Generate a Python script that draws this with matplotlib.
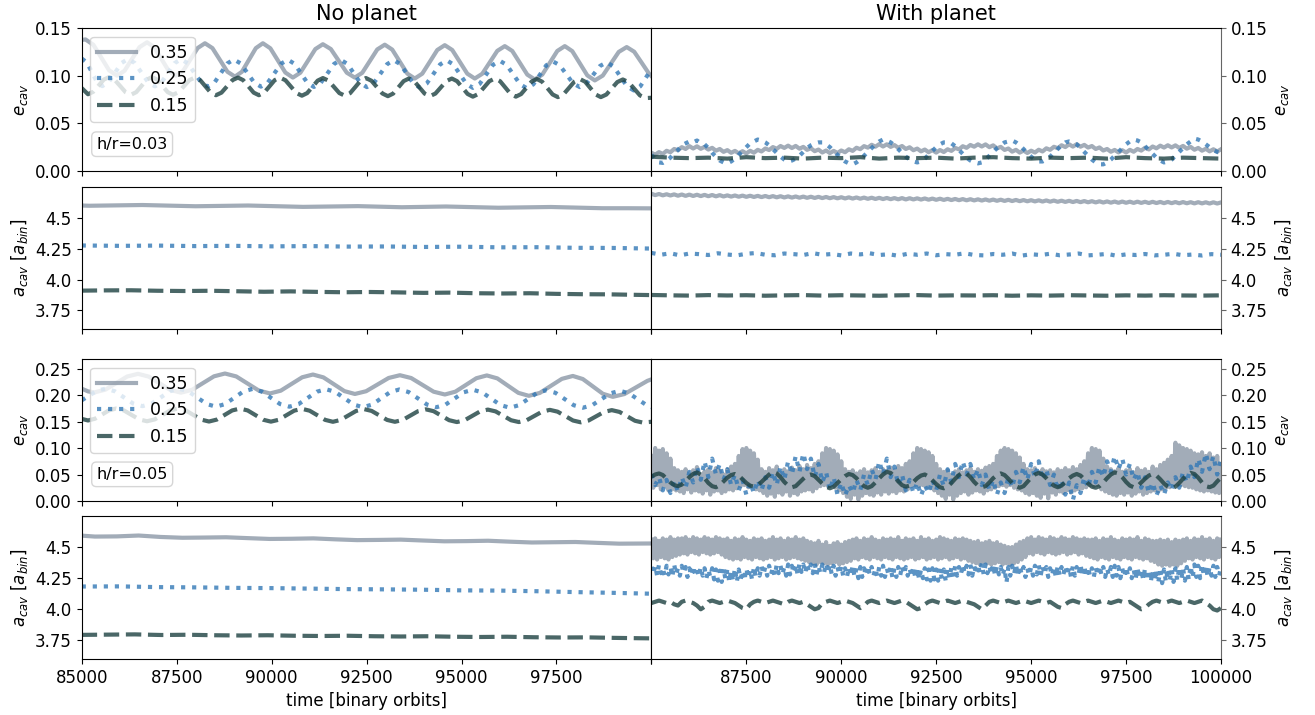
import numpy as np
import matplotlib
matplotlib.use('Agg')
import matplotlib.pyplot as plt

plt.rcParams['font.family'] = ['DejaVu Sans']

labels = ['0.35', '0.25', '0.15']
colors = ['#8b97a6', '#3278b6', '#1d4141']
styles = ['-', ':', '--']
col_titles = ['No planet', 'With planet']
hr_labels = ['h/r=0.03', 'h/r=0.05']
xticks = [85000, 87500, 90000, 92500, 95000, 97500, 100000]

# ---------------- left column, h/r=0.03, e_cav ----------------
np03_e_035 = [(85000, .1375), (85100, .138), (85307, .1324), (85515, .119), (85722, .1056), (85930, .100),
              (86127, .1051), (86325, .1175), (86522, .1299), (86720, .135), (86910, .1299), (87100, .1175),
              (87290, .1051), (87480, .100), (87671, .1050), (87862, .117), (88054, .1290), (88245, .134),
              (88442, .1289), (88640, .1165), (88837, .1041), (89035, .099), (89219, .1041), (89402, .1165),
              (89586, .1289), (89770, .134), (89967, .1287), (90165, .116), (90362, .1033), (90560, .098),
              (90757, .1031), (90955, .1155), (91152, .1279), (91350, .133), (91560, .1279), (91770, .1155),
              (91980, .1031), (92190, .098), (92387, .1030), (92585, .11525), (92782, .1275), (92980, .1325),
              (93177, .1273), (93375, .11475), (93572, .1022), (93770, .097), (93967, .1021), (94165, .1145),
              (94362, .1269), (94560, .132), (94757, .1269), (94955, .1145), (95152, .1021), (95350, .097),
              (95547, .1020), (95745, .114), (95942, .1260), (96140, .131), (96337, .1259), (96535, .1135),
              (96732, .1011), (96930, .096), (97127, .1011), (97325, .1135), (97522, .1259), (97720, .131),
              (97917, .1257), (98115, .113), (98312, .1003), (98510, .095), (98720, .1001), (98930, .1125),
              (99140, .1249), (99350, .130), (99547, .1251), (99745, .1135), (99942, .1018), (100000, .0995)]
np03_e_025 = [(85000, .118), (85135, .1138), (85270, .1035), (85405, .0932), (85540, .089),
              (85710, .0932), (85880, .10325), (86049, .1133), (86219, .1175),
              (86397, .1133), (86574, .10315), (86752, .0930), (86929, .0888),
              (87100, .0929), (87271, .1030), (87443, .1131), (87614, .1172),
              (87792, .1130), (87969, .1029), (88147, .0928), (88324, .0886),
              (88495, .0927), (88666, .1028), (88837, .1129), (89008, .1170),
              (89186, .1128), (89364, .10275), (89541, .0927), (89719, .0885),
              (89897, .0926), (90075, .1026), (90252, .1126), (90430, .1167),
              (90601, .1125), (90772, .10245), (90943, .0924), (91114, .0882),
              (91292, .0923), (91470, .10235), (91647, .1124), (91825, .1165),
              (91996, .1123), (92167, .10225), (92338, .0922), (92509, .0880),
              (92687, .0921), (92865, .1021), (93042, .1121), (93220, .1162),
              (93391, .1120), (93562, .10185), (93733, .0917), (93904, .0875),
              (94082, .0917), (94259, .10175), (94437, .1118), (94614, .1160),
              (94785, .1118), (94957, .1016), (95128, .0914), (95299, .0872),
              (95477, .0913), (95654, .1014), (95832, .1115), (96009, .1156),
              (96187, .1114), (96365, .1012), (96542, .0910), (96720, .0868),
              (96891, .0909), (97062, .1009), (97233, .1109), (97404, .1150),
              (97582, .1111), (97760, .1015), (97937, .0919), (98115, .0880),
              (98292, .0918), (98470, .1010), (98647, .1102), (98825, .1140),
              (99003, .1097), (99181, .09925), (99358, .0888), (99536, .0845),
              (99707, .0888), (99878, .0993), (100000, .107)]
np03_e_015 = [(85000, .087), (85166, .0805), (85305, .0831), (85444, .0895), (85582, .0959), (85721, .0985),
              (85865, .0958), (86010, .08925), (86154, .0827), (86298, .0800),
              (86436, .0827), (86574, .08925), (86712, .0958), (86850, .0985),
              (86988, .0958), (87127, .08925), (87265, .0827), (87403, .0800),
              (87548, .0826), (87693, .089), (87837, .0954), (87982, .098),
              (88120, .0953), (88259, .08875), (88397, .0822), (88535, .0795),
              (88680, .0822), (88825, .08875), (88969, .0953), (89114, .098),
              (89252, .0953), (89390, .08875), (89528, .0822), (89666, .0795),
              (89804, .0822), (89943, .08875), (90081, .0953), (90219, .098),
              (90364, .0952), (90509, .0885), (90653, .0818), (90798, .079),
              (90936, .0817), (91075, .08825), (91213, .0948), (91351, .0975),
              (91496, .0948), (91641, .08825), (91785, .0817), (91930, .079),
              (92068, .0817), (92207, .08825), (92345, .0948), (92483, .0975),
              (92628, .0947), (92773, .088), (92917, .0813), (93062, .0785),
              (93200, .0812), (93339, .08775), (93477, .0943), (93615, .097),
              (93753, .0943), (93891, .08775), (94029, .0812), (94167, .0785),
              (94312, .0812), (94457, .08775), (94601, .0943), (94746, .097),
              (94884, .0942), (95023, .0875), (95161, .0808), (95299, .078),
              (95444, .0808), (95589, .0875), (95733, .0942), (95878, .097),
              (96016, .0942), (96155, .0875), (96293, .0808), (96431, .078),
              (96569, .0807), (96708, .08725), (96846, .0938), (96984, .0965),
              (97122, .0937), (97261, .087), (97399, .0803), (97537, .0775),
              (97682, .0803), (97827, .087), (97971, .0937), (98116, .0965),
              (98254, .0937), (98393, .087), (98531, .0803), (98669, .0775),
              (98814, .0802), (98959, .08675), (99103, .0933), (99248, .096),
              (99398, .0932), (99549, .08625), (99699, .0793), (99850, .0765), (100000, .0768)]

# ---------------- left column, h/r=0.03, a_cav ----------------
np03_a_035 = [(85000, 4.598), (85200, 4.596), (85900, 4.599), (86600, 4.602), (87300, 4.597), (88000, 4.592),
              (88690, 4.595), (89380, 4.598), (90100, 4.5925), (90830, 4.587), (91550, 4.590), (92275, 4.593),
              (92850, 4.5885), (93430, 4.584), (94010, 4.587), (94590, 4.590), (95280, 4.585), (95970, 4.580),
              (96660, 4.583), (97355, 4.586), (98030, 4.581), (98700, 4.576), (99350, 4.576), (100000, 4.575)]
np03_a_025 = [(85000, 4.275), (86000, 4.272), (87000, 4.274), (88000, 4.270), (89000, 4.272), (90000, 4.268),
              (91000, 4.270), (92000, 4.266), (93000, 4.267), (94000, 4.263), (95000, 4.265), (96000, 4.260),
              (97000, 4.261), (98000, 4.256), (99000, 4.255), (100000, 4.250)]
np03_a_015 = [(85000, 3.910), (85600, 3.912), (86300, 3.913), (87000, 3.909), (87700, 3.907), (88400, 3.909),
              (89100, 3.905), (89800, 3.901), (90500, 3.904), (91200, 3.900), (91900, 3.897), (92600, 3.899),
              (93300, 3.896), (94000, 3.892), (94700, 3.894), (95400, 3.889), (96100, 3.887), (96800, 3.889),
              (97500, 3.884), (98200, 3.881), (98900, 3.880), (99600, 3.876), (100000, 3.874)]

# ---------------- left column, h/r=0.05, e_cav ----------------
np05_e_035 = [(85000, .212), (85170, .2068), (85337, .205), (85623, .2101), (85910, .2225), (86196, .2349), (86482, .240),
              (86765, .2348), (87048, .22225), (87331, .2097), (87614, .2045),
              (87904, .2098), (88193, .22255), (88483, .2353), (88772, .2406),
              (89069, .2351), (89365, .2218), (89662, .2085), (89958, .203),
              (90241, .2082), (90523, .22085), (90806, .2335), (91088, .2387),
              (91364, .2333), (91641, .22035), (91917, .2074), (92193, .202),
              (92489, .2072), (92786, .2197), (93082, .2322), (93378, .2374),
              (93674, .2321), (93970, .2192), (94266, .2063), (94562, .201),
              (94838, .2063), (95115, .219), (95391, .2317), (95667, .237),
              (95944, .2314), (96220, .21775), (96497, .2041), (96773, .1985),
              (97063, .204), (97352, .21725), (97642, .2305), (97931, .236),
              (98194, .2302), (98458, .2163), (98721, .2024), (98984, .1966),
              (99288, .2018), (99592, .2143), (99896, .2268), (100000, .2295)]
np05_e_025 = [(85000, .190), (85300, .2035), (85470, .2095), (85626, .212),
              (85870, .2072), (86113, .1955), (86357, .1838), (86600, .179),
              (86840, .1838), (87081, .1955), (87321, .2072), (87561, .212),
              (87805, .207), (88048, .195), (88292, .183), (88535, .178),
              (88775, .1829), (89015, .19475), (89255, .2066), (89495, .2115),
              (89739, .2066), (89982, .19475), (90226, .1829), (90469, .178),
              (90709, .1828), (90950, .1945), (91190, .2062), (91430, .211),
              (91674, .206), (91917, .194), (92161, .182), (92404, .177),
              (92644, .1819), (92884, .19375), (93124, .2056), (93364, .2105),
              (93608, .2056), (93851, .19375), (94095, .1819), (94338, .177),
              (94578, .1818), (94819, .1935), (95059, .2052), (95299, .210),
              (95543, .205), (95786, .193), (96030, .181), (96273, .176),
              (96513, .1808), (96753, .1925), (96993, .2042), (97233, .209),
              (97473, .2042), (97714, .1925), (97954, .1808), (98194, .176),
              (98437, .1807), (98681, .192), (98924, .2033), (99168, .208),
              (99408, .2033), (99648, .19175), (99888, .1802), (100000, .1769)]
np05_e_015 = [(85000, .155), (85166, .152), (85351, .1553), (85536, .16325), (85720, .1712), (85905, .1745),
              (86109, .171), (86312, .1625), (86516, .154), (86719, .1505),
              (86923, .154), (87127, .1625), (87331, .171), (87535, .1745),
              (87739, .1709), (87943, .16225), (88147, .1536), (88351, .150),
              (88555, .1536), (88759, .16225), (88962, .1709), (89166, .1745),
              (89370, .1709), (89574, .16215), (89778, .1534), (89982, .1498),
              (90186, .1533), (90390, .1619), (90594, .1705), (90798, .174),
              (91002, .1704), (91206, .16175), (91410, .1531), (91614, .1495),
              (91818, .153), (92022, .1615), (92226, .170), (92430, .1735),
              (92634, .170), (92838, .1615), (93042, .153), (93246, .1495),
              (93450, .1529), (93654, .16125), (93858, .1696), (94062, .173),
              (94266, .1695), (94470, .161), (94674, .1525), (94878, .149),
              (95082, .1524), (95286, .16075), (95490, .1691), (95694, .1725),
              (95898, .1691), (96102, .16075), (96306, .1524), (96510, .149),
              (96714, .1524), (96918, .1605), (97122, .1686), (97326, .172),
              (97530, .1686), (97734, .16025), (97937, .1519), (98141, .1485),
              (98345, .1519), (98549, .160), (98753, .1681), (98957, .1715),
              (99161, .1681), (99365, .15975), (99569, .1514), (99773, .148), (100000, .1495)]

# ---------------- left column, h/r=0.05, a_cav ----------------
np05_a_035 = [(85000, 4.592), (85350, 4.5846), (85925, 4.586), (86500, 4.593), (87075, 4.5815), (87650, 4.575),
              (88225, 4.5767), (88800, 4.579), (89375, 4.572), (89950, 4.5655), (90525, 4.567), (91100, 4.570),
              (91675, 4.5624), (92250, 4.556), (92825, 4.5577), (93400, 4.560), (93975, 4.553), (94550, 4.5465),
              (95125, 4.548), (95700, 4.551), (96275, 4.5435), (96850, 4.537), (97425, 4.539), (98000, 4.541),
              (98575, 4.534), (99150, 4.5275), (100000, 4.529)]
np05_a_025 = [(85000, 4.183), (86000, 4.184), (87000, 4.178), (88000, 4.176), (89000, 4.172), (90000, 4.170),
              (91000, 4.166), (92000, 4.162), (93000, 4.160), (94000, 4.157), (95000, 4.152), (96000, 4.150),
              (97000, 4.145), (98000, 4.138), (99000, 4.132), (100000, 4.125)]
np05_a_015 = [(85000, 3.794), (85700, 3.796), (86400, 3.798), (87100, 3.793), (87800, 3.795), (88500, 3.791),
              (89200, 3.789), (89900, 3.791), (90600, 3.787), (91300, 3.785), (92000, 3.787), (92700, 3.783),
              (93400, 3.781), (94100, 3.783), (94800, 3.779), (95500, 3.777), (96200, 3.779), (96900, 3.775),
              (97600, 3.773), (98300, 3.774), (99000, 3.770), (99700, 3.767), (100000, 3.766)]

# ---------------- right column (regularly sampled 85000..100000) ----------------
wp03_e_035 = [.0192, .0171, .0198, .0179, .0212, .0197, .0231, .0218, .0250, .0231, .0261, .0236, .0259, .0233,
              .0253, .0225, .0243, .0213, .0231, .0201, .0219, .0191, .0211, .0185, .0208, .0184, .0212, .0192,
              .0222, .0205, .0236, .0220, .0251, .0233, .0262, .0242, .0266, .0241, .0263, .0234, .0253, .0222,
              .0239, .0208, .0225, .0194, .0215, .0188, .0211, .0189, .0215, .0197, .0228, .0211, .0244, .0229,
              .0261, .0245, .0275, .0255, .0282, .0257, .0280, .0253, .0272, .0244, .0262, .0231, .0249, .0218,
              .0235, .0206, .0225, .0197, .0219, .0193, .0220, .0199, .0228, .0211, .0242, .0227, .0260, .0243,
              .0273, .0255, .0280, .0257, .0279, .0250, .0269, .0237, .0253, .0221, .0236, .0203, .0222, .0193,
              .0214, .0189, .0213, .0194, .0223, .0205, .0238, .0222, .0254, .0239, .0270, .0251, .0280, .0256,
              .0281, .0255, .0274, .0246, .0262, .0231, .0247, .0215, .0231, .0202, .0221, .0195, .0218, .0194,
              .0222, .0202, .0231, .0214, .0244, .0226, .0257, .0238, .0266, .0246, .0270, .0247, .0269, .0242,
              .0263, .0234, .0253, .0223, .0242, .0213, .0233, .0206, .0228, .0204, .0228]
wp03_e_025 = [.017, .012, .009, .0085, .011, .014, .019, .022, .027, .029, .031, .030, .032, .029, .028, .024,
              .019, .015, .011, .009, .008, .010, .013, .017, .021, .025, .029, .031, .033, .032, .030, .027,
              .023, .019, .015, .012, .010, .011, .013, .016, .020, .024, .027, .029, .030, .030, .028, .025,
              .021, .017, .013, .010, .008, .007, .009, .012, .016, .020, .024, .028, .031, .033, .032, .030,
              .027, .023, .019, .015, .012, .010, .009, .010, .013, .017, .021, .025, .028, .030, .030, .029,
              .026, .022, .018, .014, .011, .009, .008, .009, .012, .016, .020, .024, .027, .030, .031, .032,
              .030, .027, .023, .019, .015, .012, .010, .010, .012, .015, .019, .023, .027, .030, .031, .030,
              .028, .024, .020, .016, .012, .009, .007, .007, .009, .012, .016, .020, .024, .028, .031, .033,
              .032, .030, .026, .022, .018, .014, .011, .009, .010, .012, .016, .020, .024, .028, .031, .034,
              .033, .031, .028, .025, .022, .020, .019]
wp03_e_015 = [.015, .014, .0135, .014, .013, .0145, .0135, .014, .013, .014, .0135, .0145, .013, .014, .0135, .014,
              .013, .014, .0145, .0135, .013, .014, .0135, .014, .013, .0145, .0135, .013, .014, .0135, .013]

wp03_a_035 = [4.693, 4.682, 4.691, 4.680, 4.689, 4.679, 4.688, 4.677, 4.687, 4.676, 4.686, 4.675, 4.685, 4.674,
              4.684, 4.673, 4.683, 4.672, 4.682, 4.671, 4.680, 4.670, 4.679, 4.669, 4.678, 4.668, 4.677, 4.667,
              4.676, 4.666, 4.675, 4.665, 4.674, 4.664, 4.673, 4.663, 4.672, 4.662, 4.671, 4.661, 4.670, 4.660,
              4.669, 4.659, 4.668, 4.658, 4.667, 4.657, 4.666, 4.656, 4.665, 4.655, 4.664, 4.654, 4.663, 4.653,
              4.662, 4.652, 4.661, 4.651, 4.660, 4.650, 4.659, 4.649, 4.658, 4.648, 4.658, 4.647, 4.657, 4.647,
              4.656, 4.646, 4.655, 4.645, 4.654, 4.644, 4.653, 4.643, 4.652, 4.642, 4.651, 4.641, 4.650, 4.640,
              4.649, 4.639, 4.648, 4.638, 4.647, 4.637, 4.646, 4.636, 4.645, 4.635, 4.644, 4.634, 4.643, 4.633,
              4.642, 4.632, 4.641, 4.631, 4.640, 4.630, 4.639, 4.629, 4.638, 4.628, 4.637, 4.627, 4.636, 4.626,
              4.635, 4.625, 4.634, 4.624, 4.633, 4.623, 4.632, 4.622, 4.631, 4.621, 4.630, 4.620, 4.630, 4.620,
              4.629, 4.619, 4.629, 4.619, 4.628, 4.618, 4.628, 4.618, 4.627, 4.617, 4.627, 4.617, 4.626, 4.616,
              4.626, 4.616, 4.625, 4.615, 4.625, 4.615, 4.624, 4.614, 4.624, 4.614, 4.623]
wp03_a_025 = [4.215, 4.200, 4.212, 4.195, 4.210, 4.205, 4.198, 4.212, 4.202, 4.195, 4.208, 4.214, 4.200, 4.196,
              4.210, 4.205, 4.198, 4.213, 4.200, 4.206, 4.195, 4.210, 4.203, 4.212, 4.198, 4.204, 4.192, 4.208,
              4.200, 4.210, 4.196, 4.205, 4.200, 4.212, 4.198, 4.195, 4.206, 4.200, 4.210, 4.193, 4.204, 4.198,
              4.208, 4.196, 4.202, 4.210, 4.195, 4.200, 4.207, 4.192, 4.203, 4.198, 4.206, 4.195, 4.200, 4.208,
              4.196, 4.202, 4.194, 4.205, 4.200]
wp03_a_015 = [3.875, 3.872, 3.870, 3.874, 3.871, 3.873, 3.869, 3.872, 3.874, 3.870, 3.873, 3.871, 3.869, 3.872,
              3.874, 3.870, 3.872, 3.871, 3.873, 3.869, 3.872, 3.870, 3.873, 3.871, 3.869, 3.872, 3.870, 3.873,
              3.871, 3.870, 3.872]

wp05_e_035 = [.085, .025, .100, .030, .095, .022, .098, .028, .090, .020, .080, .022,
              .062, .020, .058, .018, .055, .015, .060, .022, .052, .016, .058, .020, .064, .018, .050, .014,
              .056, .020, .060, .012, .054, .018, .062, .020, .057, .015, .050, .018, .060, .022, .065, .020,
              .070, .024,
              .085, .028, .098, .030, .100, .026, .095, .030, .090, .022, .078, .020,
              .060, .015, .055, .010, .062, .014, .058, .008, .065, .016, .054, .012, .060, .018, .056, .010,
              .063, .015, .058, .012, .066, .018, .060, .020, .068, .022, .062, .018, .070, .024, .075,
              .028, .090, .030, .100, .028, .098, .030, .095, .025, .088, .020, .075, .015,
              .060, .008, .055, .004, .058, .012, .052, .003, .056, .010, .060, .015, .054, .012, .058, .010,
              .062, .016, .055, .012, .060, .018, .057, .014, .063, .018, .058, .015, .066, .020, .062, .018,
              .070, .022, .075,
              .028, .090, .030, .100, .028, .098, .030, .095, .026, .092, .024, .085, .020, .070, .015,
              .060, .010, .055, .004, .058, .012, .050, .003, .056, .010, .060, .015, .054, .018, .058, .012,
              .062, .016, .055, .020, .060, .018, .057, .014, .063, .020, .066, .022, .070, .025,
              .085, .028, .095, .030, .100, .027, .098, .030, .095, .025, .090, .022, .082, .020, .070, .015,
              .060, .012, .058, .015, .062, .010, .055, .006, .060, .014, .056, .005, .058, .016, .054, .012,
              .060, .018, .057, .015, .062, .020, .058, .016, .064, .020, .060, .022, .068, .024, .075, .026,
              .090, .030, .100, .028, .098, .030, .095, .022, .080, .018,
              .065, .015, .060, .012, .056, .010, .062, .015, .055, .012, .058, .016, .060, .010, .054, .014,
              .062, .018, .057, .012, .060, .015, .055, .018, .065, .020, .060, .018, .068, .022, .072, .025,
              .078, .026, .085,
              .030, .110, .032, .105, .030, .100, .028, .098, .026, .095, .025,
              .090, .022, .088, .020, .092, .018, .085, .020, .090, .018, .082, .016, .085, .015, .070]
wp05_e_025 = [.050, .030, .045, .020, .040, .015, .038, .018, .045, .025, .055, .035, .065, .040, .075, .045,
              .080, .050, .070, .040, .060, .030, .050, .020, .040, .012, .035, .015, .040, .020, .045, .025,
              .055, .030, .065, .040, .075, .050, .085, .055, .090, .060, .080, .045, .070, .035, .055, .020,
              .045, .012, .035, .010, .030, .015, .040, .020, .050, .030, .060, .040, .075, .050, .080, .045,
              .065, .030, .050, .020, .040, .015, .035, .010, .030, .015, .040, .020, .050, .028, .060, .035,
              .070, .045, .075, .050, .070, .040, .060, .030, .050, .020, .040, .012, .035, .015, .045, .025,
              .055, .035, .065, .040, .070, .045, .075, .040, .060, .030, .050, .020, .040, .012, .035, .002,
              .030, .015, .045, .025, .055, .035, .065, .045, .075, .055, .085, .060, .080, .050, .070, .040,
              .055, .025, .045, .015, .035, .010, .030, .012, .035, .020, .045, .025, .055, .035, .065, .045,
              .080, .055, .090, .060, .085, .050, .080]
wp05_e_015 = [.046, .050, .052, .049, .042, .035, .030, .028, .031, .038,
              .045, .051, .054, .050, .043, .034, .028, .026, .030, .037,
              .044, .049, .051, .048, .041, .034, .029, .027, .030, .036,
              .043, .050, .055, .052, .045, .036, .029, .026, .028, .035,
              .042, .048, .050, .047, .040, .033, .027, .024, .027, .034,
              .041, .047, .051, .049, .043, .035, .028, .025, .028, .035,
              .043, .050, .055, .053, .046, .037, .030, .027, .029, .036,
              .043, .048, .050, .046, .039, .032, .026, .024, .027, .034,
              .042, .049, .054, .052, .045, .036, .029, .026, .028, .035,
              .043, .049, .052, .049, .042, .034, .028, .025, .028, .036,
              .044, .050, .053, .050, .043, .035, .029, .026, .029, .036,
              .043, .048, .051, .048, .041, .033, .027, .025, .028, .035,
              .043, .050, .054, .052, .045, .036, .029, .026, .028, .035,
              .042, .048, .051, .048, .041, .033, .027, .024, .027, .034,
              .042, .049, .053, .051, .044, .035, .028, .026, .029, .037, .044]

wp05_a_035 = [4.56, 4.41, 4.57, 4.40, 4.55, 4.42, 4.57, 4.41, 4.56, 4.40, 4.58, 4.42, 4.56, 4.43, 4.57, 4.44,
              4.57, 4.45, 4.58, 4.44, 4.56, 4.46, 4.58, 4.45, 4.57, 4.44, 4.56, 4.46, 4.58, 4.45, 4.57, 4.44,
              4.56, 4.45, 4.58, 4.46, 4.57, 4.44,
              4.56, 4.42, 4.57, 4.41, 4.55, 4.40, 4.57, 4.41, 4.56, 4.40, 4.58, 4.42, 4.56, 4.41, 4.55, 4.40,
              4.57, 4.42, 4.56, 4.41, 4.57, 4.40, 4.55, 4.41, 4.56, 4.42, 4.58, 4.40, 4.56, 4.41, 4.57, 4.42,
              4.55, 4.40, 4.57, 4.41, 4.56, 4.42, 4.58, 4.41, 4.56, 4.40, 4.57, 4.39, 4.55, 4.38,
              4.54, 4.37, 4.53, 4.36, 4.55, 4.38, 4.52, 4.37, 4.54, 4.36, 4.51, 4.37, 4.53, 4.38, 4.54, 4.36,
              4.52, 4.37, 4.54, 4.38, 4.55, 4.39,
              4.56, 4.41, 4.57, 4.40, 4.55, 4.42, 4.57, 4.41, 4.56, 4.40, 4.58, 4.42, 4.56, 4.41, 4.55, 4.40,
              4.57, 4.42, 4.56, 4.41, 4.57, 4.40, 4.56, 4.42, 4.58, 4.41, 4.55, 4.40, 4.57, 4.41, 4.56, 4.42,
              4.57, 4.40, 4.55, 4.41, 4.58, 4.42, 4.56, 4.40, 4.57, 4.41, 4.55, 4.42, 4.56, 4.40, 4.58, 4.41,
              4.57, 4.42, 4.56, 4.40, 4.55, 4.41, 4.57, 4.42, 4.56, 4.40, 4.57, 4.41, 4.56, 4.39, 4.55, 4.38,
              4.54, 4.37, 4.55, 4.36, 4.53, 4.38, 4.54, 4.37, 4.55, 4.36, 4.53, 4.37, 4.54, 4.38, 4.52, 4.36,
              4.51, 4.37, 4.50, 4.36, 4.50, 4.37, 4.52, 4.38, 4.54, 4.40, 4.55, 4.42,
              4.57, 4.45, 4.58, 4.44, 4.56, 4.46, 4.58, 4.45, 4.57, 4.44, 4.56, 4.46, 4.58, 4.45, 4.57, 4.44,
              4.56, 4.45, 4.58, 4.46, 4.57, 4.44, 4.56, 4.45, 4.58, 4.46, 4.57, 4.44, 4.56, 4.45, 4.57, 4.43,
              4.56, 4.42,
              4.56, 4.41, 4.57, 4.40, 4.55, 4.42, 4.57, 4.41, 4.56, 4.40, 4.58, 4.42, 4.56, 4.41, 4.55, 4.40,
              4.57, 4.42, 4.56, 4.41, 4.57, 4.40, 4.56, 4.42, 4.58, 4.41, 4.55, 4.40, 4.57, 4.41, 4.56, 4.39,
              4.55, 4.38,
              4.55, 4.36, 4.56, 4.35, 4.55, 4.36, 4.56, 4.35, 4.54, 4.36, 4.56, 4.35, 4.55, 4.37,
              4.56, 4.39, 4.57, 4.41, 4.55, 4.40, 4.57, 4.42, 4.56, 4.41, 4.58, 4.40, 4.56, 4.42, 4.57, 4.41,
              4.55, 4.40, 4.57, 4.42, 4.56]
wp05_a_025 = [4.34, 4.28, 4.35, 4.27, 4.36, 4.29, 4.33, 4.27, 4.35, 4.28, 4.34, 4.26, 4.36, 4.28, 4.33, 4.27,
              4.35, 4.29, 4.34, 4.26, 4.33, 4.27, 4.35, 4.28, 4.32, 4.26, 4.34, 4.27, 4.33, 4.25, 4.32, 4.26,
              4.33, 4.24,
              4.32, 4.23, 4.31, 4.22, 4.33, 4.24, 4.32, 4.22, 4.31, 4.23, 4.33, 4.22, 4.32, 4.24, 4.31, 4.23,
              4.33, 4.25, 4.32, 4.24, 4.34, 4.26, 4.33, 4.27, 4.35, 4.28,
              4.34, 4.27, 4.35, 4.28, 4.34, 4.27, 4.36, 4.29, 4.35, 4.28, 4.34, 4.27, 4.36, 4.28, 4.35, 4.29,
              4.36, 4.28, 4.37, 4.30,
              4.36, 4.29, 4.37, 4.30, 4.36, 4.29, 4.37, 4.28, 4.35, 4.29, 4.36, 4.30, 4.37, 4.29, 4.36, 4.28,
              4.35, 4.27, 4.34, 4.28,
              4.35, 4.27, 4.33, 4.26, 4.34, 4.27, 4.35, 4.26, 4.33, 4.25, 4.34, 4.26, 4.33, 4.27, 4.35, 4.28,
              4.34, 4.27, 4.33, 4.26, 4.34, 4.27, 4.35, 4.26, 4.33, 4.27, 4.34, 4.25, 4.33, 4.26, 4.34, 4.27,
              4.35, 4.28, 4.34, 4.27, 4.33, 4.26, 4.34, 4.25, 4.33, 4.24, 4.32, 4.25, 4.33, 4.24, 4.32, 4.23,
              4.33, 4.24,
              4.32, 4.23, 4.33, 4.24, 4.32, 4.23, 4.33, 4.25, 4.34, 4.26, 4.35, 4.27, 4.34, 4.28, 4.36, 4.29,
              4.35, 4.28, 4.36, 4.27,
              4.35, 4.28, 4.36, 4.29, 4.37, 4.28, 4.36, 4.29, 4.35, 4.28, 4.36, 4.27, 4.35, 4.28, 4.34, 4.27,
              4.33, 4.21, 4.34, 4.27, 4.35, 4.28, 4.36, 4.27, 4.35, 4.28, 4.34, 4.26, 4.33, 4.27,
              4.34, 4.27, 4.35, 4.28, 4.36, 4.27, 4.35, 4.28, 4.34, 4.26, 4.33, 4.27, 4.34, 4.26, 4.35, 4.27,
              4.34, 4.28, 4.35, 4.27, 4.34, 4.26, 4.35, 4.27, 4.34, 4.28, 4.36, 4.27, 4.35, 4.26, 4.34, 4.27,
              4.33, 4.26, 4.34, 4.27, 4.35, 4.28, 4.34, 4.26, 4.33, 4.27, 4.34, 4.26, 4.35, 4.27, 4.34, 4.25,
              4.33, 4.26, 4.34, 4.27, 4.33, 4.25, 4.32, 4.24, 4.33, 4.25, 4.32, 4.24,
              4.33, 4.23, 4.32, 4.22, 4.31, 4.23, 4.32, 4.22, 4.31, 4.21, 4.32, 4.22, 4.33, 4.23, 4.32, 4.22,
              4.33, 4.23, 4.34, 4.24, 4.33, 4.23, 4.34, 4.24, 4.35, 4.25, 4.36, 4.26, 4.35, 4.25, 4.36, 4.27,
              4.35, 4.26, 4.34, 4.27, 4.35, 4.26, 4.34, 4.27, 4.34]
wp05_a_015 = [4.05, 4.06, 4.07, 4.06, 4.05, 4.06, 4.04, 4.03, 4.06, 4.07, 4.06, 4.05, 4.03, 4.00, 4.02, 4.06,
              4.07, 4.06, 4.05, 4.06, 4.07, 4.06, 4.05, 4.03, 4.01, 4.00, 4.04, 4.06, 4.07, 4.06, 4.05, 4.06,
              4.07, 4.06, 4.05, 4.04, 4.06, 4.07, 4.06, 4.05, 4.06, 4.04, 4.02, 4.00, 4.01, 4.05, 4.06, 4.07,
              4.06, 4.05, 4.06, 4.07, 4.06, 4.05, 4.03, 4.01, 4.03, 4.06, 4.07, 4.06, 4.05, 4.06, 4.07, 4.06,
              4.05, 4.06, 4.07, 4.06, 4.04, 4.02, 4.00, 4.01, 4.04, 4.06, 4.07, 4.06, 4.05, 4.06, 4.07, 4.06,
              4.05, 4.06, 4.07, 4.06, 4.05, 4.04, 4.02, 4.00, 4.03, 4.06, 4.07, 4.06, 4.05, 4.06, 4.07, 4.06,
              4.05, 4.06, 4.07, 4.06, 4.05, 4.06, 4.07, 4.06, 4.05, 4.06, 4.04, 4.02, 4.01, 4.04, 4.06, 4.07,
              4.06, 4.05, 4.06, 4.07, 4.06, 4.05, 4.06, 4.07, 4.06, 4.05, 4.06, 4.07, 4.06, 4.05, 4.06, 4.04,
              4.02, 4.00, 4.01, 4.04, 4.06, 4.07, 4.06, 4.05, 4.06, 4.07, 4.06, 4.05, 4.06, 4.07, 4.06, 4.05,
              4.06, 4.07, 4.05, 4.03, 4.00, 3.99, 4.01]

# ---------------- figure ----------------
W, H = 1315, 715
fig = plt.figure(figsize=(W / 100, H / 100), dpi=100)

xl, xm, xr = 81.7, 651.4, 1221.0
rows_px = [(28, 171), (186.7, 329), (359, 501), (516, 659)]
ylims = [(0, 0.15), (3.6, 4.75), (0, 0.268), (3.6, 4.75)]
yticks_e1 = [0, 0.05, 0.10, 0.15]
yticks_a = [3.75, 4.0, 4.25, 4.5]
yticklabels_a = ['3.75', '4.0', '4.25', '4.5']
yticks_e2 = [0, 0.05, 0.10, 0.15, 0.20, 0.25]


def as_tv(series):
    if isinstance(series[0], tuple):
        t = [p[0] for p in series]
        v = [p[1] for p in series]
    else:
        v = list(series)
        t = np.linspace(85000, 100000, len(v))
    return t, v


panels = {
    (0, 0): [np03_e_035, np03_e_025, np03_e_015],
    (1, 0): [np03_a_035, np03_a_025, np03_a_015],
    (2, 0): [np05_e_035, np05_e_025, np05_e_015],
    (3, 0): [np05_a_035, np05_a_025, np05_a_015],
    (0, 1): [wp03_e_035, wp03_e_025, wp03_e_015],
    (1, 1): [wp03_a_035, wp03_a_025, wp03_a_015],
    (2, 1): [wp05_e_035, wp05_e_025, wp05_e_015],
    (3, 1): [wp05_a_035, wp05_a_025, wp05_a_015],
}

for (r, c), series_list in panels.items():
    top, bot = rows_px[r]
    x0 = xl if c == 0 else xm
    x1 = xm if c == 0 else xr
    ax = fig.add_axes([x0 / W, 1 - bot / H, (x1 - x0) / W, (bot - top) / H])
    handles = []
    for s, lab, col, ls in zip(series_list, labels, colors, styles):
        t, v = as_tv(s)
        ln, = ax.plot(t, v, color=col, ls=ls, lw=3, alpha=0.8, label=lab)
        handles.append(ln)
    ax.set_xlim(85000, 100000)
    ax.set_ylim(*ylims[r])
    ax.set_xticks(xticks)
    if r == 3:
        if c == 0:
            ax.set_xticklabels([str(x) for x in xticks[:-1]] + [''])
        else:
            ax.set_xticklabels([''] + [str(x) for x in xticks[1:]])
        ax.set_xlabel('time [binary orbits]', fontsize=12)
    else:
        ax.set_xticklabels([])
    if r in (0, 2):
        ticks = yticks_e1 if r == 0 else yticks_e2
        ax.set_yticks(ticks)
        ax.set_yticklabels(['%.2f' % v for v in ticks])
        ax.set_ylabel('$e_{cav}$', fontsize=12)
    else:
        ax.set_yticks(yticks_a)
        ax.set_yticklabels(yticklabels_a)
        ax.set_ylabel('$a_{cav}$ [$a_{bin}$]', fontsize=12)
    ax.tick_params(labelsize=12)
    if c == 1:
        ax.yaxis.tick_right()
        ax.yaxis.set_label_position('right')
        ax.spines['right'].set_color('#666666')
        ax.tick_params(axis='y', colors='#666666', labelcolor='black')
    if r == 0:
        ax.set_title(col_titles[c], fontsize=15)
    if c == 0 and r in (0, 2):
        ax.legend(handles=handles, loc='upper left', fontsize=12.5, handlelength=2.2)
        ax.text(0.026, 0.135, hr_labels[0 if r == 0 else 1], transform=ax.transAxes,
                fontsize=11.5, ha='left', va='bottom',
                bbox=dict(boxstyle='round,pad=0.3', fc='white', ec='#cccccc', alpha=0.8))

fig.savefig('out.png', dpi=100)
